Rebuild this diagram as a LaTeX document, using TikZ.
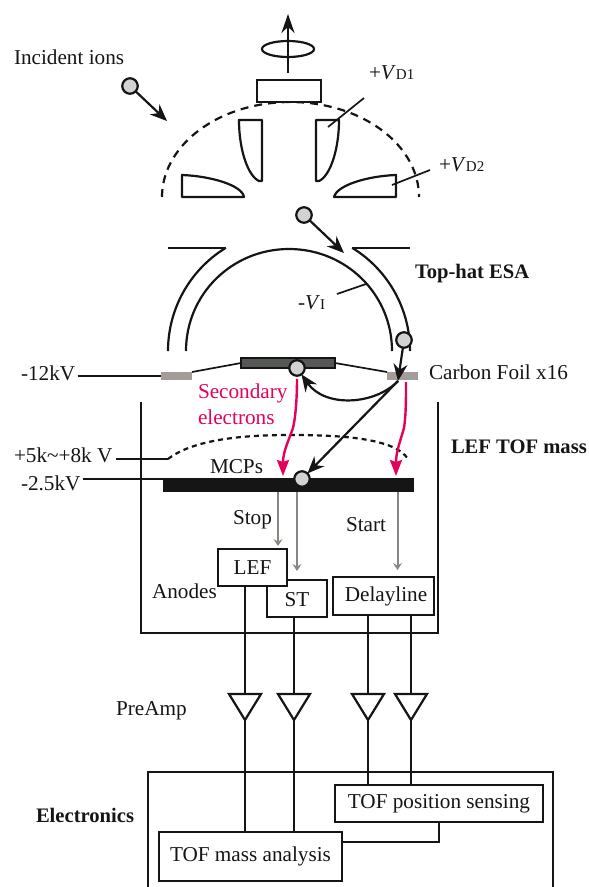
\documentclass[tikz,border=0pt]{standalone}
\usepackage{fontspec}
\setmainfont{Liberation Serif}
\usetikzlibrary{arrows.meta,shapes.geometric}
\definecolor{ballgrey}{HTML}{D2D2D2}
\definecolor{foilgrey}{HTML}{A39C98}
\definecolor{bargrey}{HTML}{555855}
\definecolor{pinkarrow}{HTML}{E5005B}
\definecolor{wiregrey}{HTML}{8C8683}
\definecolor{inkblack}{HTML}{151515}
\newcommand{\subV}[2]{#1\textit{V}{\fontsize{15}{18}\selectfont #2}}
\tikzset{
  lbl/.style={anchor=base west,inner sep=0pt,outer sep=0pt,text=inkblack,font=\fontsize{21.2}{25}\selectfont},
  blbl/.style={lbl,font=\fontsize{20.6}{25}\selectfont\bfseries},
  plbl/.style={lbl,text=pinkarrow},
  wire/.style={draw=inkblack,line width=2.2pt},
  thin wire/.style={draw=inkblack,line width=1.7pt},
  boxn/.style={draw=inkblack,line width=2.4pt,fill=white,inner sep=0pt,outer sep=0pt,rectangle,text=inkblack,font=\fontsize{21.2}{25}\selectfont},
  ball/.style={circle,draw=inkblack,fill=ballgrey,line width=2.2pt,minimum size=15.5pt,inner sep=0pt,outer sep=0pt},
  bigarrow/.style={draw=inkblack,line width=2.2pt,-{Stealth[length=17pt,width=14pt]}},
  pinka/.style={draw=pinkarrow,line width=2.4pt,-{Stealth[length=16pt,width=12pt,inset=2pt]}},
  greya/.style={draw=wiregrey,line width=2pt,-{Stealth[length=7pt,width=9pt,inset=2.5pt]}},
  slab/.style={rectangle,inner sep=0pt,outer sep=0pt},
  amp/.style={draw=inkblack,line width=2.2pt,line join=miter},
}
\begin{document}
\begin{tikzpicture}[x=1pt,y=-1pt]
\useasboundingbox (0,0) rectangle (589,887);
% coordinates
\coordinate (axb) at (288,73);
\coordinate (axt) at (288,14);
\coordinate (ionend) at (167,121);
\coordinate (ion2end) at (344,253);
\coordinate (foilhit) at (398,381);
\coordinate (t1) at (245,694);
\coordinate (t2) at (294,694);
\coordinate (t3) at (368,694);
\coordinate (t4) at (411,694);
% top hat deflectors
\draw[wire,dash pattern=on 8pt off 6pt] plot[domain=180:0,samples=90] ({290.5+128.5*cos(\x)},{197-95*sin(\x)});
\node[boxn,minimum width=64pt,minimum height=22pt] (top) at (289,91) {};
\draw[wire,-{Stealth[length=19pt,width=13pt]}] (axb) -- (axt);
\node[ellipse,draw=inkblack,line width=2.2pt,minimum width=52pt,minimum height=16pt,inner sep=0pt] (spin) at (288,49) {};
\draw[wire,line join=round] (239,120) -- (262,120) -- (262,181) -- (259,181) .. controls (248,176) and (239,150) .. cycle;
\draw[wire,line join=round] (316,120) -- (339,120) .. controls (339,150) and (330,176) .. (319,181) -- (316,181) -- cycle;
\draw[wire,line join=round] (182,197) -- (182,175) .. controls (210,176) and (242,185) .. (244,197) -- cycle;
\draw[wire,line join=round] (396,197) -- (396,175) .. controls (368,176) and (337,185) .. (334,197) -- cycle;
\coordinate (vd1a) at (328,127);\coordinate (vd1b) at (364,98);
\coordinate (vd2a) at (392,185);\coordinate (vd2b) at (430,170);
\draw[thin wire] (vd1a) -- (vd1b);
\draw[thin wire] (vd2a) -- (vd2b);
% ESA
\draw[wire] plot[domain=121.5:180,samples=40] ({289+121*cos(\x)},{351-121*sin(\x)}) ;
\draw[wire] plot[domain=58.5:0,samples=40] ({289+121*cos(\x)},{351-121*sin(\x)}) ;
\draw[wire] (168,248) -- (226,248);
\draw[wire] (352,248) -- (410,248);
\draw[wire] (186,351) .. controls (186,294.1) and (232.1,249) .. (289,249) .. controls (345.9,249) and (392,294.1) .. (392,351);
\coordinate (via) at (337,294);\coordinate (vib) at (366,284);
\draw[thin wire] (via) -- (vib);
% foils
\node[slab,fill=foilgrey,minimum width=31pt,minimum height=8pt] (foilL) at (176.5,376) {};
\node[slab,fill=foilgrey,minimum width=31pt,minimum height=8pt] (foilR) at (402.5,376) {};
\node[slab,fill=bargrey,draw=inkblack,line width=2pt,minimum width=94pt,minimum height=10pt] (bar) at (288,363) {};
\draw[thin wire] (foilL.north east) -- (bar.west);
\draw[thin wire] (bar.east) -- (foilR.north west);
\coordinate (hvL) at (78,376);
\draw[thin wire] (hvL) -- (foilL.west);
% TOF housing
\draw[wire,line join=miter] (141,402) -- (141,633) -- (438,633) -- (438,402);
% LEF dome
\coordinate (lefL) at (168,459);
\coordinate (lefR) at (408,459);
\coordinate (hvM) at (116,459);
\draw[thin wire] (hvM) -- (lefL);
\draw[wire,dash pattern=on 5pt off 4pt] (lefL) .. controls (195,438) and (250,435) .. (290,435) .. controls (340,435) and (395,438) .. (lefR);
% MCP
\node[slab,fill=inkblack,minimum width=251pt,minimum height=14pt] (mcp) at (288.5,485) {};
\coordinate (hvB) at (83,479);
\draw[thin wire] (hvB) -- (mcp.west |- hvB);
% balls and ion tracks
\node[ball] (ion1) at (130,86) {};
\node[ball] (ion2) at (304,215) {};
\node[ball] (ion3) at (404,340) {};
\node[ball] (ion4) at (297,368) {};
\node[ball] (ion5) at (302,479) {};
\draw[bigarrow] (ion1) -- (ionend);
\draw[bigarrow] (ion2) -- (ion2end);
\draw[bigarrow] (ion3) -- (foilhit);
\draw[bigarrow] (foilhit) .. controls (375,405) and (325,408) .. (ion4);
\draw[bigarrow] (foilhit) -- (ion5);
% secondary electrons
\draw[pinka] (ion4.south) ++(0,3) .. controls (297,395) and (296,415) .. (293,428) .. controls (288,442) and (283,452) .. (283,476);
\draw[pinka] (406,382) .. controls (406,400) and (406,415) .. (404,428) .. controls (400,442) and (396,452) .. (396,476);
% anodes
\node[boxn,minimum width=60pt,minimum height=37pt] (st) at (297,598.5) {};
\node[boxn,minimum width=69pt,minimum height=37pt] (lef) at (252.5,567.5) {LEF};
\node at (st) [font=\fontsize{21.2}{25}\selectfont,text=inkblack,yshift=-1.5pt] (stt) {ST};
\node[boxn,minimum width=101pt,minimum height=38pt] (delay) at (383.5,596) {\hspace{5pt}\raisebox{-2pt}{Delayline}};
\draw[greya] (mcp.south -| 278,0) -- (278,546);
\draw[greya] (mcp.south -| 297,0) -- (297,571);
\draw[greya] (mcp.south -| 397.5,0) -- (397.5,570);
% preamps
\foreach \t in {t1,t2,t3,t4}{
  \draw[amp] (\t) ++(-16,0) -- ++(32,0) -- ++(-16,26) -- cycle;
}
\draw[wire] (lef.south -| t1) -- (t1);
\draw[wire] (st.south -| t2) -- (t2);
\draw[wire] (delay.south -| t3) -- (t3);
\draw[wire] (delay.south -| t4) -- (t4);
% electronics
\draw[wire] (148,887) -- (148,772) -- (553,772) -- (553,887);
\node[boxn,minimum width=208pt,minimum height=37pt] (pos) at (439,803.5) {\raisebox{-1pt}{TOF position sensing}};
\node[boxn,minimum width=183pt,minimum height=49pt] (mass) at (250.5,856.5) {\raisebox{-4pt}{TOF mass analysis}};
\draw[wire] (t1) ++(0,26) -- (mass.north -| t1);
\draw[wire] (t2) ++(0,26) -- (mass.north -| t2);
\draw[wire] (t3) ++(0,26) -- (pos.north -| t3);
\draw[wire] (t4) ++(0,26) -- (pos.north -| t4);
\draw[wire] (pos.south) -- (439,842) -- (mass.east |- 0,842);
% labels
\node[lbl] (l1) at (14,64) {Incident ions};
\node[lbl] (l2) at (369,79) {\subV{+}{D1}};
\node[lbl] (l3) at (439,171) {\subV{+}{D2}};
\node[blbl] (l4) at (415,278) {Top-hat ESA};
\node[lbl] (l5) at (298,309) {\subV{-}{I}};
\node[lbl] (l6) at (429,379) {Carbon Foil x16};
\node[plbl] (l7) at (198,398) {Secondary};
\node[plbl] (l8) at (198,424) {electrons};
\node[blbl] (l9) at (451,453) {LEF TOF mass};
\node[lbl] (l10) at (21,380) {-12kV};
\node[lbl] (l11) at (14,462) {+5k\textasciitilde+8k V};
\node[lbl] (l12) at (210,473) {MCPs};
\node[lbl] (l13) at (21,490) {-2.5kV};
\node[lbl] (l14) at (233,524) {Stop};
\node[lbl] (l15) at (346,531) {Start};
\node[lbl] (l16) at (152,598) {Anodes};
\node[lbl] (l17) at (116,715) {PreAmp};
\node[blbl] (l18) at (36,822) {Electronics};
\end{tikzpicture}
\end{document}
